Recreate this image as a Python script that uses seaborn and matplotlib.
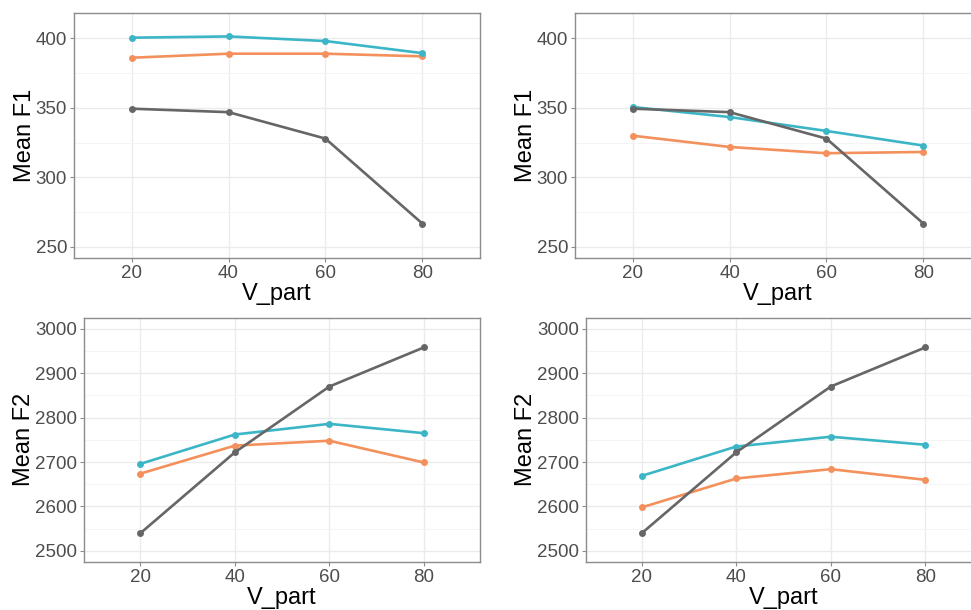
import matplotlib
matplotlib.use("Agg")
import matplotlib.pyplot as plt
from matplotlib.ticker import MultipleLocator
import seaborn as sns
import pandas as pd

sns.set_theme(style="white")
plt.rcParams["font.family"] = ["Liberation Sans", "DejaVu Sans"]

# Shared x values
v_part = [20, 40, 60, 80]

# Series order: drawn first to last
series = ["orange", "cyan", "gray"]
palette = {"orange": "#F3905C", "cyan": "#3CB6C6", "gray": "#666666"}

# Mean F1, left and right panels
f1_left = {
    "orange": [385.9, 388.8, 388.8, 386.9],
    "cyan": [400.3, 401.2, 397.9, 389.2],
    "gray": [349.3, 346.8, 327.8, 266.8],
}
f1_right = {
    "orange": [329.9, 321.8, 317.3, 318.2],
    "cyan": [350.5, 343.3, 333.3, 322.8],
    "gray": [349.3, 346.8, 327.8, 266.8],
}

# Mean F2, left and right panels
f2_left = {
    "orange": [2674, 2737, 2748, 2699],
    "cyan": [2696, 2762, 2786, 2765],
    "gray": [2540, 2722, 2870, 2958],
}
f2_right = {
    "orange": [2598, 2663, 2684, 2660],
    "cyan": [2669, 2735, 2757, 2739],
    "gray": [2540, 2722, 2870, 2958],
}

y_ticks_f1 = [250, 300, 350, 400]
y_ticks_f2 = [2500, 2600, 2700, 2800, 2900, 3000]
x_ticks = [20, 40, 60, 80]


def long_frame(values):
    rows = []
    for name in series:
        for x, y in zip(v_part, values[name]):
            rows.append({"V_part": x, "value": y, "series": name})
    return pd.DataFrame(rows)


fig = plt.figure(figsize=(9.71, 6.10), dpi=100)

panels = [
    ([0.0762, 0.5770, 0.4181, 0.4016], f1_left, "Mean F1", (242, 418), y_ticks_f1, 25),
    ([0.5922, 0.5770, 0.4181, 0.4016], f1_right, "Mean F1", (242, 418), y_ticks_f1, 25),
    ([0.0868, 0.0787, 0.4075, 0.4005], f2_left, "Mean F2", (2475, 3025), y_ticks_f2, 50),
    ([0.6032, 0.0787, 0.4075, 0.4005], f2_right, "Mean F2", (2475, 3025), y_ticks_f2, 50),
]

for rect, values, ylabel, ylim, yticks, minor in panels:
    ax = fig.add_axes(rect)
    df = long_frame(values)
    sns.lineplot(
        data=df, x="V_part", y="value", hue="series", hue_order=series,
        palette=palette, marker="o", markersize=5, markeredgewidth=0,
        linewidth=1.9, legend=False, ax=ax,
    )
    ax.set_xlim(8.1, 91.9)
    ax.set_ylim(*ylim)
    ax.set_xticks(x_ticks)
    ax.set_yticks(yticks)
    ax.yaxis.set_minor_locator(MultipleLocator(minor))
    ax.grid(True, which="major", color="#EBEBEB", linewidth=1.0)
    ax.grid(True, which="minor", axis="y", color="#F4F4F4", linewidth=0.7)
    ax.set_axisbelow(True)
    for sp in ax.spines.values():
        sp.set_color("#8C8C8C")
        sp.set_linewidth(1.0)
        sp.set_visible(True)
    ax.tick_params(axis="both", which="major", length=3, width=0.8,
                   color="#8C8C8C", labelsize=13.5, labelcolor="#4D4D4D", pad=2,
                   left=True, bottom=True)
    ax.tick_params(axis="both", which="minor", length=0)
    ax.set_xlabel("V_part", fontsize=17, color="black", labelpad=1)
    ax.set_ylabel(ylabel, fontsize=17, color="black", labelpad=0)

fig.savefig("out.png", dpi=100, facecolor="white")
